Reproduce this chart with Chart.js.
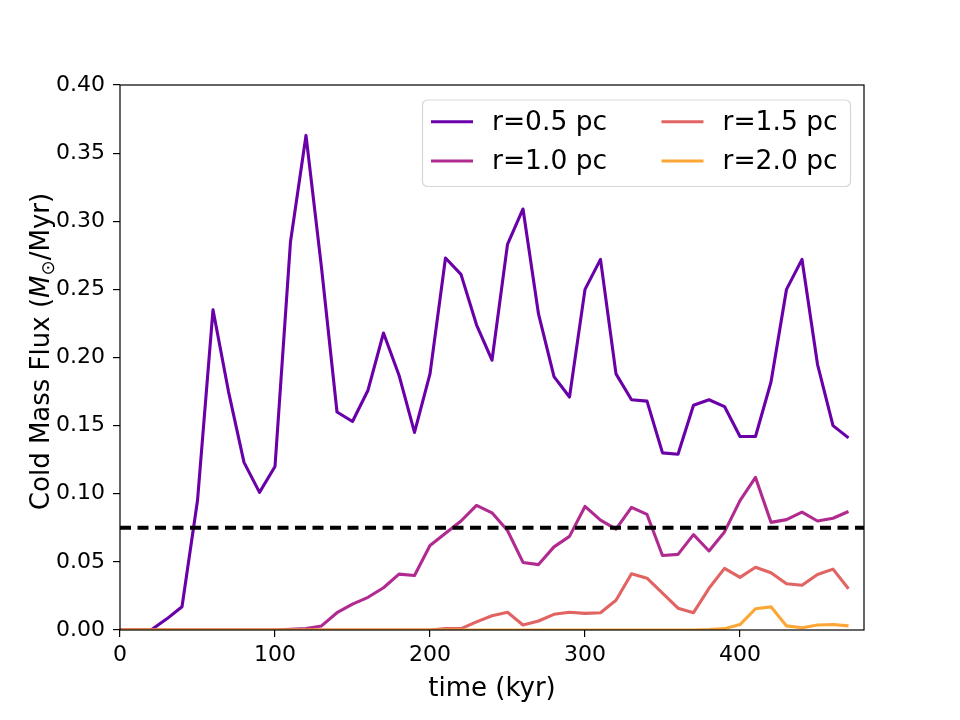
<!DOCTYPE html>
<html>
<head>
<meta charset="utf-8">
<script src="https://cdn.jsdelivr.net/npm/chart.js@4.4.1/dist/chart.umd.min.js"></script>
<style>
  html, body { margin: 0; padding: 0; background: #ffffff; }
  #wrap { width: 960px; height: 720px; }
</style>
</head>
<body>
<div id="wrap"><canvas id="c" width="960" height="720"></canvas></div>
<script>
// ---- data ----
const times = [0,10,20,30,40,50,60,70,80,90,100,110,120,130,140,150,160,170,180,190,200,210,220,230,240,250,260,270,280,290,300,310,320,330,340,350,360,370,380,390,400,410,420,430,440,450,460,470];
const flux_r05 = [0,0,0,0.008,0.017,0.095,0.235,0.175,0.123,0.101,0.120,0.285,0.363,0.266,0.160,0.153,0.176,0.218,0.187,0.145,0.188,0.273,0.261,0.224,0.198,0.283,0.309,0.232,0.186,0.171,0.250,0.272,0.188,0.169,0.168,0.130,0.129,0.165,0.169,0.164,0.142,0.142,0.182,0.250,0.272,0.195,0.150,0.141];
const flux_r10 = [0,0,0,0,0,0,0,0,0,0,0,0.0005,0.001,0.003,0.0127,0.019,0.024,0.031,0.041,0.040,0.062,0.071,0.080,0.0914,0.086,0.073,0.0496,0.048,0.061,0.0687,0.0907,0.0806,0.074,0.090,0.0848,0.0547,0.0555,0.070,0.058,0.072,0.095,0.112,0.079,0.081,0.0865,0.080,0.082,0.087];
const flux_r15 = [0,0,0,0,0,0,0,0,0,0,0,0,0,0,0,0,0,0,0,0,0,0.001,0.001,0.006,0.0105,0.013,0.0037,0.0066,0.0115,0.013,0.0122,0.0127,0.0218,0.0413,0.038,0.027,0.016,0.0127,0.0306,0.0452,0.0386,0.046,0.042,0.034,0.0328,0.0408,0.0447,0.0303];
const flux_r20 = [0,0,0,0,0,0,0,0,0,0,0,0,0,0,0,0,0,0,0,0,0,0,0,0,0,0,0,0,0,0,0,0,0,0,0,0,0,0,0.0003,0.001,0.004,0.0156,0.017,0.003,0.0017,0.0037,0.004,0.003];
const seriesLabels = ['r=0.5 pc','r=1.0 pc','r=1.5 pc','r=2.0 pc'];
const threshold = [0.075];
const xLimits = [0, 480];
const yLimits = [0, 0.40];
const xTicks = [0, 100, 200, 300, 400];
const yTicks = [0.00,0.05,0.10,0.15,0.20,0.25,0.30,0.35,0.40];
const xTitle = 'time (kyr)';
const yTitleParts = ['Cold Mass Flux (', 'M', '\u2299', '/Myr)'];

// ---- styles ----
const colors = ['#6a00a8', '#b12a90', '#e16462', '#fca636'];
const FONT = 'DejaVu Sans';
const TICK_SIZE = 22;
const LABEL_SIZE = 26;
const LEGEND_SIZE = 26.5;

const toPts = (ys) => times.map((t, i) => ({x: t, y: ys[i]}));
const seriesData = [flux_r05, flux_r10, flux_r15, flux_r20];

const datasets = seriesData.map((ys, i) => ({
  label: seriesLabels[i],
  data: toPts(ys),
  borderColor: colors[i],
  backgroundColor: colors[i],
  borderWidth: 3.1,
  pointRadius: 0,
  tension: 0,
  fill: false,
  clip: 0,
  borderJoinStyle: 'round',
  order: 4 - i,
  isSeries: true
}));
datasets.push({
  label: 'threshold',
  data: [{x: xLimits[0], y: threshold[0]}, {x: xLimits[1], y: threshold[0]}],
  borderColor: '#000000',
  borderWidth: 4,
  borderDash: [11, 6.5],
  pointRadius: 0,
  fill: false,
  clip: 0,
  order: 0,
  isSeries: false
});

const framePlugin = {
  id: 'frame',
  afterDatasetsDraw(chart) {
    const {ctx, chartArea: a} = chart;
    ctx.save();
    ctx.strokeStyle = '#000000';
    ctx.lineWidth = 1.2;
    ctx.strokeRect(a.left, a.top, a.right - a.left, a.bottom - a.top);
    ctx.restore();
  }
};

const yTitlePlugin = {
  id: 'yTitle',
  afterDraw(chart) {
    const ctx = chart.ctx;
    const a = chart.chartArea;
    const fNorm = LABEL_SIZE + 'px "' + FONT + '"';
    const fIt = 'italic ' + LABEL_SIZE + 'px "' + FONT + '"';
    const fSub = (LABEL_SIZE * 0.7) + 'px "' + FONT + '"';
    const parts = [
      {t: yTitleParts[0], f: fNorm, dy: 0},
      {t: yTitleParts[1], f: fIt, dy: 0},
      {t: yTitleParts[2], f: fSub, dy: LABEL_SIZE * 0.2},
      {t: yTitleParts[3], f: fNorm, dy: 0}
    ];
    ctx.save();
    let total = 0;
    parts.forEach(p => { ctx.font = p.f; p.w = ctx.measureText(p.t).width; total += p.w; });
    ctx.translate(49, (a.top + a.bottom) / 2 - 6);
    ctx.rotate(-Math.PI / 2);
    ctx.fillStyle = '#000000';
    ctx.textBaseline = 'alphabetic';
    ctx.textAlign = 'left';
    let x = -total / 2;
    parts.forEach(p => { ctx.font = p.f; ctx.fillText(p.t, x, p.dy); x += p.w; });
    ctx.restore();
  }
};

const legendPlugin = {
  id: 'customLegend',
  afterDraw(chart) {
    const ctx = chart.ctx;
    const items = chart.data.datasets.filter(d => d.isSeries);
    const box = {x: 422.5, y: 100, w: 428, h: 86.5, r: 5};
    ctx.save();
    ctx.beginPath();
    ctx.roundRect(box.x, box.y, box.w, box.h, box.r);
    ctx.fillStyle = 'rgba(255,255,255,0.8)';
    ctx.fill();
    ctx.strokeStyle = 'rgba(204,204,204,0.8)';
    ctx.lineWidth = 1.2;
    ctx.stroke();
    const colX = [431, 661.5];
    const rowY = [121.7, 161];
    ctx.font = LEGEND_SIZE + 'px "' + FONT + '"';
    ctx.textBaseline = 'middle';
    ctx.textAlign = 'left';
    items.forEach((d, i) => {
      const col = Math.floor(i / 2), row = i % 2;
      const x0 = colX[col], y0 = rowY[row];
      ctx.strokeStyle = d.borderColor;
      ctx.lineWidth = 3.1;
      ctx.beginPath();
      ctx.moveTo(x0, y0);
      ctx.lineTo(x0 + 42, y0);
      ctx.stroke();
      ctx.fillStyle = '#000000';
      ctx.fillText(d.label, x0 + 61, y0 + 1);
    });
    ctx.restore();
  }
};

new Chart(document.getElementById('c'), {
  type: 'line',
  data: { datasets },
  options: {
    responsive: false,
    animation: false,
    devicePixelRatio: 1,
    layout: { padding: { left: 0, top: 85, right: 96, bottom: 0 } },
    plugins: { legend: { display: false }, tooltip: { enabled: false } },
    scales: {
      x: {
        type: 'linear',
        min: xLimits[0],
        max: xLimits[1],
        afterFit: (s) => { s.height = 90; },
        afterBuildTicks: (s) => { s.ticks = xTicks.map(v => ({value: v})); },
        ticks: { color: '#000000', font: { family: FONT, size: TICK_SIZE }, padding: 5, maxRotation: 0, callback: (v) => String(v) },
        grid: { drawOnChartArea: false, drawTicks: true, tickLength: 7, color: '#000000', lineWidth: 1.2 },
        border: { display: false },
        title: { display: true, text: xTitle, color: '#000000', font: { family: FONT, size: LABEL_SIZE }, padding: { top: 0, bottom: 15 } }
      },
      y: {
        type: 'linear',
        min: yLimits[0],
        max: yLimits[1],
        afterFit: (s) => { s.width = 120; },
        afterBuildTicks: (s) => { s.ticks = yTicks.map(v => ({value: v})); },
        ticks: { color: '#000000', font: { family: FONT, size: TICK_SIZE }, padding: 8, callback: (v) => Number(v).toFixed(2) },
        grid: { drawOnChartArea: false, drawTicks: true, tickLength: 7, color: '#000000', lineWidth: 1.2 },
        border: { display: false },
        title: { display: false }
      }
    }
  },
  plugins: [framePlugin, yTitlePlugin, legendPlugin]
});
</script>
</body>
</html>
